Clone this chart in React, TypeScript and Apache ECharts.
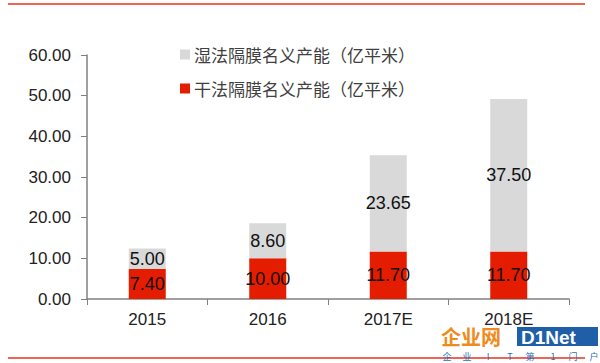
import React, { useEffect, useRef } from "react";
import * as echarts from "echarts";

const categories = ["2015", "2016", "2017E", "2018E"];
const dryValues = [7.4, 10.0, 11.7, 11.7];
const wetValues = [5.0, 8.6, 23.65, 37.5];
const wetName = "湿法隔膜名义产能（亿平米）";
const dryName = "干法隔膜名义产能（亿平米）";
const sloganChars = ["企", "业", "I", "T", "第", "1", "门", "户"];
const sloganX = [447, 467, 488, 510, 530, 553, 573, 594];

const RED = "#E41C00";
const GRAY = "#D9D9D9";
const AXIS = "#808080";
const LATIN = "Liberation Sans, Arial, sans-serif";
const CJK = "Noto Sans CJK SC, sans-serif";

export default function App() {
  const ref = useRef<HTMLDivElement>(null);
  useEffect(() => {
    if (!ref.current) return;
    const chart = echarts.init(ref.current, undefined, { renderer: "svg" });
    chart.setOption({
      animation: false,
      backgroundColor: "#ffffff",
      grid: { left: 87, right: 31, top: 55, bottom: 64 },
      legend: {
        orient: "vertical",
        left: 175,
        top: 41,
        itemWidth: 10,
        itemHeight: 10,
        itemGap: 17,
        icon: "rect",
        data: [wetName, dryName],
        textStyle: { fontFamily: CJK, fontSize: 17, color: "#404040", padding: [0, 0, 0, -1] },
      },
      xAxis: {
        type: "category",
        data: categories,
        axisLine: { lineStyle: { color: AXIS, width: 1.5 } },
        axisTick: { show: true, length: 6, lineStyle: { color: AXIS } },
        axisLabel: { fontFamily: LATIN, fontSize: 17, color: "#222", margin: 12 },
      },
      yAxis: {
        type: "value",
        min: 0,
        max: 60,
        interval: 10,
        splitLine: { show: false },
        axisLine: { show: true, lineStyle: { color: AXIS, width: 1.5 } },
        axisTick: { show: true, length: 6, lineStyle: { color: AXIS } },
        axisLabel: {
          fontFamily: LATIN,
          fontSize: 17,
          color: "#222",
          margin: 16,
          formatter: (v: number) => v.toFixed(2),
        },
      },
      series: [
        {
          name: dryName,
          type: "bar",
          stack: "total",
          barWidth: 37,
          data: dryValues,
          itemStyle: { color: RED },
          label: {
            show: true,
            position: "inside",
            fontFamily: LATIN,
            fontSize: 18,
            color: "#111",
            formatter: (p: any) => Number(p.value).toFixed(2),
          },
        },
        {
          name: wetName,
          type: "bar",
          stack: "total",
          barWidth: 37,
          data: wetValues,
          itemStyle: { color: GRAY },
          label: {
            show: true,
            position: "inside",
            fontFamily: LATIN,
            fontSize: 18,
            color: "#111",
            formatter: (p: any) => Number(p.value).toFixed(2),
          },
        },
      ],
      graphic: [
        { type: "line", shape: { x1: 8, y1: 4, x2: 585, y2: 4 }, style: { stroke: "#E8301C", lineWidth: 1.5 } },
        { type: "line", shape: { x1: 8, y1: 358, x2: 585, y2: 358 }, style: { stroke: "#E8301C", lineWidth: 1.5 } },
        {
          type: "text",
          x: 441,
          y: 336,
          style: {
            text: "企业网",
            fontFamily: CJK,
            fontWeight: "bold",
            fontSize: 20,
            lineHeight: 18,
            fill: "#F08A1C",
            verticalAlign: "middle",
          },
        },
        { type: "rect", shape: { x: 517, y: 327, width: 81, height: 19 }, style: { fill: "#1F5FA8" } },
        {
          type: "text",
          x: 521,
          y: 337,
          style: {
            text: "D1Net",
            fontFamily: LATIN,
            fontWeight: "bold",
            fontSize: 19,
            lineHeight: 18,
            fill: "#ffffff",
            verticalAlign: "middle",
          },
        },
        ...sloganChars.map((c, i) => ({
          type: "text",
          x: sloganX[i],
          y: 356,
          style: {
            text: c,
            fontFamily: CJK,
            fontSize: 9,
            lineHeight: 9,
            fill: "#2a6fb8",
            align: "center",
            verticalAlign: "middle",
          },
        })),
      ],
    });
    return () => chart.dispose();
  }, []);
  return <div ref={ref} style={{ width: 600, height: 363, position: "absolute", left: 0, top: 0 }} />;
}
